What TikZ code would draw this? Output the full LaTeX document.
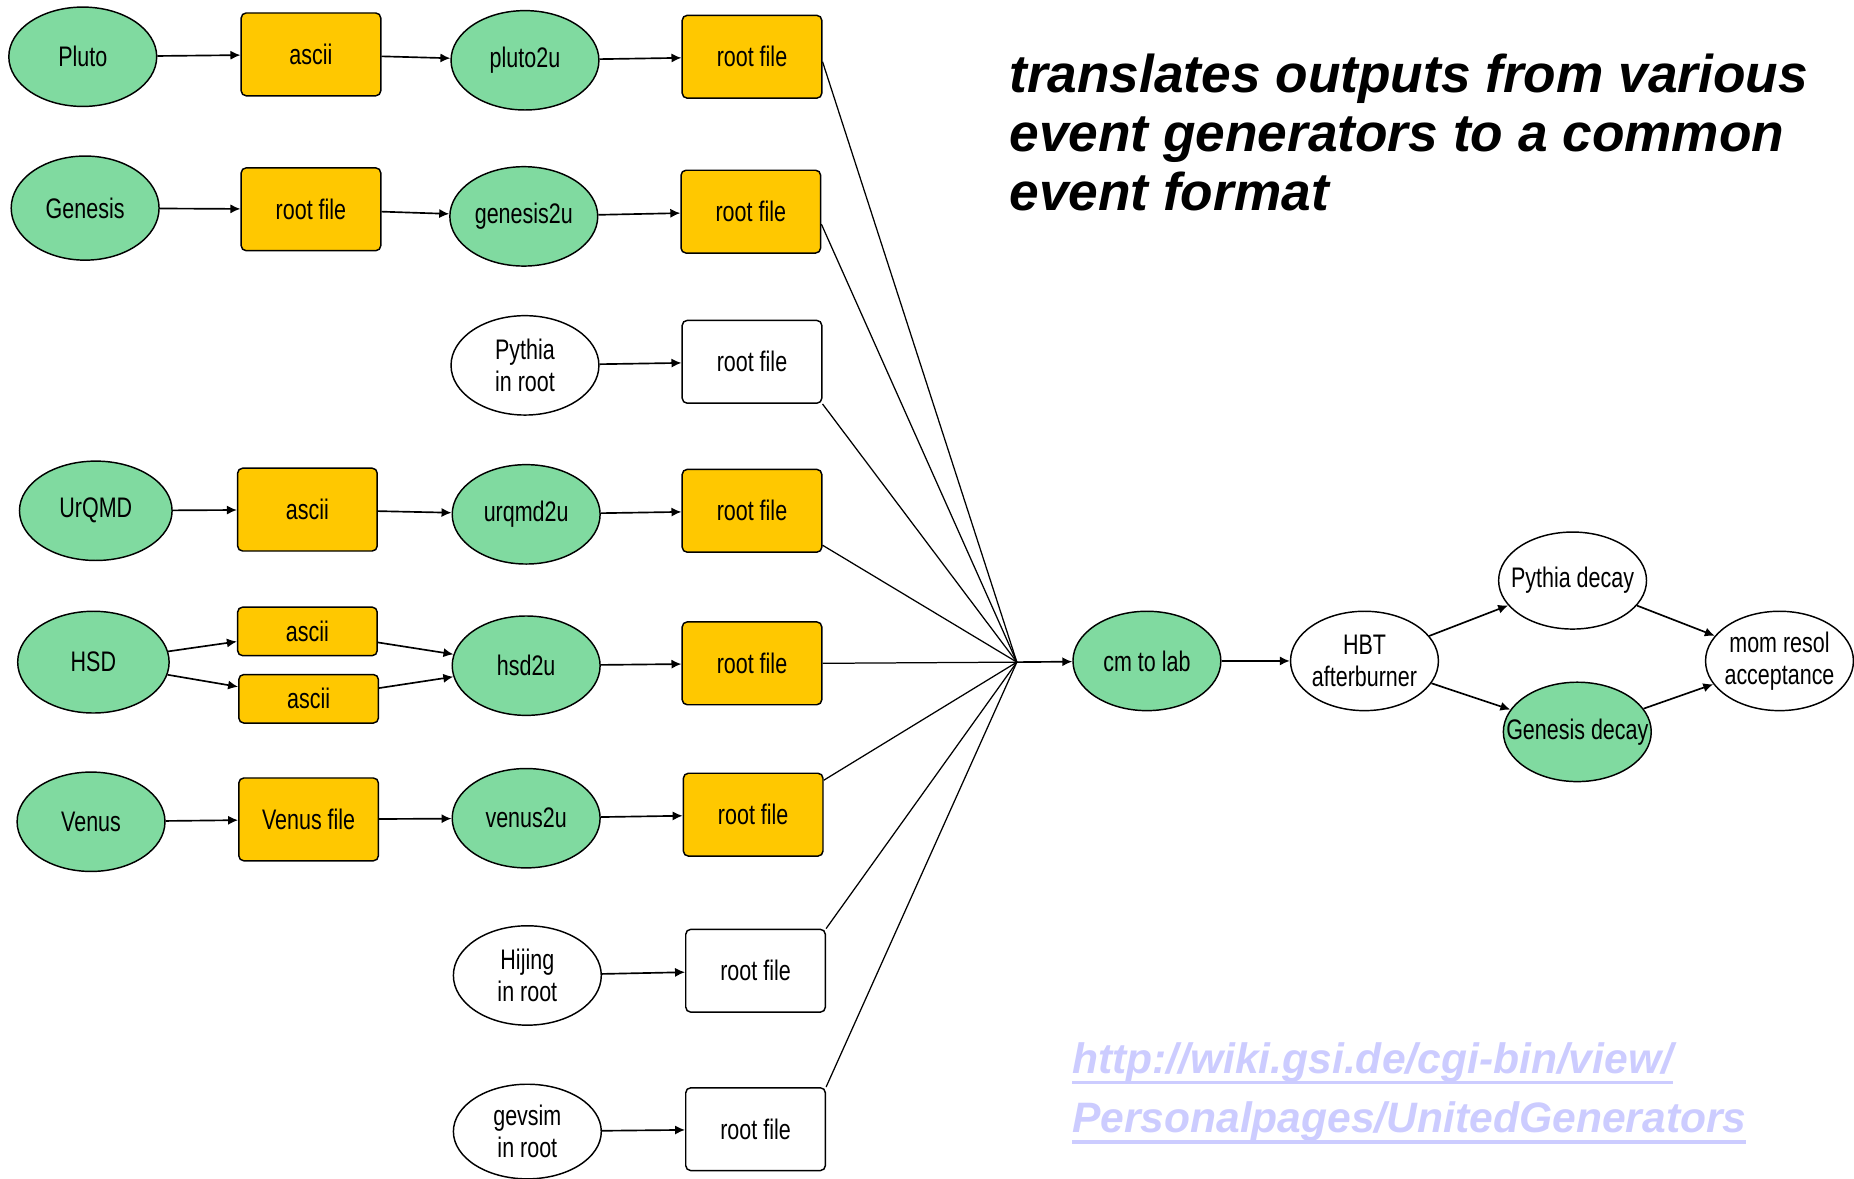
\documentclass[tikz,border=0pt]{standalone}
\usepackage{fontspec}
\setmainfont{Liberation Sans}
\newfontfamily\nodefont[FakeStretch=0.76]{Liberation Sans}
\usetikzlibrary{shapes.geometric,arrows.meta}
\definecolor{gfill}{RGB}{128,218,160}
\definecolor{yfill}{RGB}{255,200,0}
\definecolor{urlc}{RGB}{204,204,255}
\newcommand\myul[1]{\setbox0\hbox{#1}\rlap{\rule[-2.6pt]{\wd0}{0.85pt}}\box0}
\begin{document}
\begin{tikzpicture}[x=0.01cm,y=-0.01cm,
 every node/.style={font=\nodefont\fontsize{6.8}{7.6}\selectfont, align=center},
 ell/.style={ellipse, draw, line width=0.35pt, inner xsep=-30pt, inner ysep=-12pt, minimum width=1.25cm, minimum height=0.84cm},
 gell/.style={ell, fill=gfill},
 wbox/.style={rectangle, draw, line width=0.35pt, rounded corners=1.2pt, inner sep=0pt, minimum width=1.18cm, minimum height=0.70cm},
 ybox/.style={wbox, fill=yfill},
 sbox/.style={ybox, minimum height=0.41cm},
 arr/.style={line width=0.4pt, -{Latex[length=2.4pt,width=2.2pt]}},
 feed/.style={line width=0.3pt},
 title/.style={font=\bfseries\itshape\fontsize{12.8}{15}\selectfont, anchor=base west, inner sep=0pt},
 urlst/.style={font=\bfseries\itshape\fontsize{10.24}{12}\selectfont, text=urlc, anchor=base west, inner sep=0pt},
]
\useasboundingbox (0,0) rectangle (1568,997);

% row 1
\node[gell] (pluto) at (70,48) {Pluto};
\node[ybox] (a1) at (263,46) {ascii};
\node[gell] (p2u) at (444,51) {pluto2u};
\node[ybox] (r1) at (636,48) {root file};
% row 2
\node[gell, minimum height=0.88cm] (genesis) at (72,176) {Genesis};
\node[ybox] (b2) at (263,177) {root file};
\node[gell] (g2u) at (443,183) {genesis2u};
\node[ybox] (r2) at (635,179) {root file};
% row 3
\node[ell] (pyr) at (444,309) {Pythia\\in root};
\node[wbox] (r3) at (636,306) {root file};
% row 4
\node[gell, minimum width=1.29cm] (urqmd) at (81,432) {UrQMD};
\node[ybox] (a4) at (260,431) {ascii};
\node[gell] (u2u) at (445,435) {urqmd2u};
\node[ybox] (r4) at (636,432) {root file};
% row 5
\node[gell, minimum width=1.28cm, minimum height=0.86cm] (hsd) at (79,560) {HSD};
\node[sbox] (a5a) at (260,534) {ascii};
\node[sbox] (a5b) at (261,591) {ascii};
\node[gell] (h2u) at (445,563) {hsd2u};
\node[ybox] (r5) at (636,561) {root file};
% row 6
\node[gell] (venus) at (77,695) {Venus};
\node[ybox] (vf) at (261,693) {Venus file};
\node[gell] (v2u) at (445,692) {venus2u};
\node[ybox] (r6) at (637,689) {root file};
% row 7
\node[ell] (hij) at (446,825) {Hijing\\in root};
\node[wbox] (r7) at (639,821) {root file};
% row 8
\node[ell, minimum height=0.80cm] (gev) at (446,957) {gevsim\\in root};
\node[wbox] (r8) at (639,955) {root file};

% right part
\coordinate (hub) at (860,560);
\node[gell] (cm) at (970,559) {cm to lab};
\node[ell] (hbt) at (1154,559) {HBT\\afterburner};
\node[ell, minimum height=0.82cm] (pyd) at (1330,491) {Pythia decay};
\node[gell] (gd) at (1334,619) {Genesis decay};
\node[ell] (mom) at (1505,559) {mom resol\\acceptance};

% arrows left
\draw[arr] (pluto) -- (a1);
\draw[arr] (a1) -- (p2u);
\draw[arr] (p2u) -- (r1);
\draw[arr] (genesis) -- (b2);
\draw[arr] (b2) -- (g2u);
\draw[arr] (g2u) -- (r2);
\draw[arr] (pyr) -- (r3);
\draw[arr] (urqmd) -- (a4);
\draw[arr] (a4) -- (u2u);
\draw[arr] (u2u) -- (r4);
\draw[arr] (hsd) -- (a5a);
\draw[arr] (hsd) -- (a5b);
\draw[arr] (a5a) -- (h2u);
\draw[arr] (a5b) -- (h2u);
\draw[arr] (h2u) -- (r5);
\draw[arr] (venus) -- (vf);
\draw[arr] (vf) -- (v2u);
\draw[arr] (v2u) -- (r6);
\draw[arr] (hij) -- (r7);
\draw[arr] (gev) -- (r8);

% feed lines to hub
\draw[feed] (r1.-4) -- (hub);
\draw[feed] (r2.-10) -- (hub);
\draw[feed] (r3.south east) -- (hub);
\draw[feed] (r4.-26) -- (hub);
\draw[feed] (r5.east) -- (hub);
\draw[feed] (r6.26) -- (hub);
\draw[feed] (r7.north east) -- (hub);
\draw[feed] (r8.north east) -- (hub);

% arrows right
\draw[arr] (hub) -- (cm);
\draw[arr] (cm) -- (hbt);
\draw[arr] (hbt) -- (pyd);
\draw[arr] (hbt) -- (gd);
\draw[arr] (pyd) -- (mom);
\draw[arr] (gd) -- (mom);

% title
\node[title] (t1) at (853,78) {translates outputs from various};
\node[title] (t2) at (853,128) {event generators to a common};
\node[title] (t3) at (853,178) {event format};

% url
\node[urlst] (u1) at (906,908) {\myul{http://wiki.gsi.de/cgi-bin/view/}};
\node[urlst] (u2) at (906,958) {\myul{Personalpages/UnitedGenerators}};
\end{tikzpicture}
\end{document}
